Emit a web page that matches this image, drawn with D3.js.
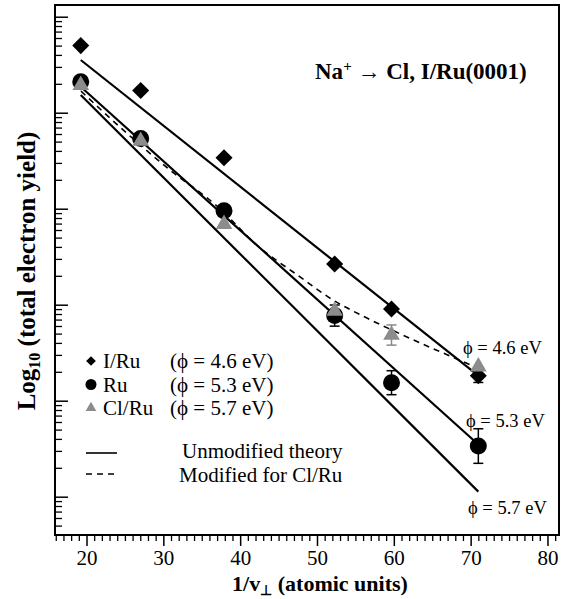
<!DOCTYPE html>
<html>
<head>
<meta charset="utf-8">
<script src="https://cdn.jsdelivr.net/npm/d3@7"></script>
<style>
  body { margin: 0; background: #fff; }
  text { font-family: "Liberation Serif", "Times New Roman", serif; fill: #000; }
</style>
</head>
<body>
<div id="chart"></div>
<script>
// 1/v_perp values (atomic units), same for all three surfaces
var xVals = [19.25, 27.05, 37.9, 52.3, 59.7, 71.0];

// total electron yield (arbitrary units, log axis)
var iruYield = [5.0e-1, 1.7e-1, 3.4e-2, 2.65e-3, 9.0e-4, 1.82e-4];
var ruYield  = [2.1e-1, 5.4e-2, 9.5e-3, 7.7e-4, 1.54e-4, 3.37e-5];
var clYield  = [1.94e-1, 5.07e-2, 6.9e-3, 8.6e-4, 4.83e-4, 2.26e-4];

// error bar half-widths, in decades
var iruErr = [0, 0, 0, 0, 0, 0.07];
var ruErr  = [0, 0, 0, 0.11, 0.125, 0.18];
var clErr  = [0, 0, 0, 0, 0.105, 0];

// unmodified theory lines: [x0, y0, x1, y1]
var theory = [
  { phi: "4.6", pts: [19.25, 0.354, 71.0, 1.82e-4] },
  { phi: "5.3", pts: [19.25, 0.1866, 71.0, 3.5e-5] },
  { phi: "5.7", pts: [19.25, 0.153, 71.0, 1.13e-5] }
];

// modified theory for Cl/Ru (dashed)
var modX = [19.28, 23.05, 30.86, 36.98, 42.32, 47.79, 52.08, 56.5, 59.75, 70.95];
var modY = [0.168, 0.088, 0.0253, 0.01067, 0.00408, 0.00195, 0.00112, 7.26e-4, 5.45e-4, 2.19e-4];

var xTicks = [20, 30, 40, 50, 60, 70, 80];

var svgWidth = 567;
var svgHeight = 599;
var margin = { top: 5, right: 8, bottom: 64, left: 55 };
var width = svgWidth - margin.left - margin.right;
var height = svgHeight - margin.top - margin.bottom;

var svg = d3.select("#chart")
  .append("svg")
  .attr("width", svgWidth)
  .attr("height", svgHeight);

var chartGroup = svg.append("g")
  .attr("transform", `translate(${margin.left}, ${margin.top})`);

var xScale = d3.scaleLinear()
  .domain([15.9, 81.5])
  .range([0, width]);

var yScale = d3.scaleLog()
  .domain([Math.pow(10, -5.399), Math.pow(10, 0.122)])
  .range([height, 0]);

// ---- x axis: ticks pointing out ----
var minorX = d3.range(16, 82).filter(d => xTicks.indexOf(d) < 0);
chartGroup.append("g")
  .attr("transform", `translate(0, ${height})`)
  .call(d3.axisBottom(xScale).tickValues(minorX).tickSize(6).tickFormat(""))
  .call(g => g.select(".domain").remove())
  .selectAll("line").attr("stroke-width", 1.3);

var xAxis = chartGroup.append("g")
  .attr("transform", `translate(0, ${height})`)
  .call(d3.axisBottom(xScale).tickValues(xTicks).tickSize(11).tickPadding(4).tickSizeOuter(0));
xAxis.select(".domain").remove();
xAxis.selectAll("line").attr("stroke-width", 1.5);
xAxis.selectAll("text")
  .attr("font-family", "Liberation Serif")
  .attr("font-size", 21);

// ---- y axis: log ticks pointing in, no labels ----
var majorY = [];
var minorY = [];
for (var k = -6; k <= 0; k++) {
  for (var m = 1; m < 10; m++) {
    var v = m * Math.pow(10, k);
    if (v < yScale.domain()[0] * 1.01 || v > yScale.domain()[1]) continue;
    if (m === 1) majorY.push(v); else minorY.push(v);
  }
}
chartGroup.append("g")
  .call(d3.axisRight(yScale).tickValues(minorY).tickSize(7).tickFormat(""))
  .call(g => g.select(".domain").remove())
  .selectAll("line").attr("stroke-width", 1.3);
chartGroup.append("g")
  .call(d3.axisRight(yScale).tickValues(majorY).tickSize(13).tickFormat(""))
  .call(g => g.select(".domain").remove())
  .selectAll("line").attr("stroke-width", 1.5);

// frame
chartGroup.append("rect")
  .attr("width", width)
  .attr("height", height)
  .attr("fill", "none")
  .attr("stroke", "#000")
  .attr("stroke-width", 2);

// ---- theory lines ----
chartGroup.selectAll(".theory")
  .data(theory)
  .enter()
  .append("line")
  .attr("class", "theory")
  .attr("x1", d => xScale(d.pts[0]))
  .attr("y1", d => yScale(d.pts[1]))
  .attr("x2", d => xScale(d.pts[2]))
  .attr("y2", d => yScale(d.pts[3]))
  .attr("stroke", "#000")
  .attr("stroke-width", 2.2);

var modData = modX.map((x, i) => [x, modY[i]]);
chartGroup.append("path")
  .datum(modData)
  .attr("fill", "none")
  .attr("stroke", "#000")
  .attr("stroke-width", 1.6)
  .attr("stroke-dasharray", "6,5")
  .attr("d", d3.line()
    .x(d => xScale(d[0]))
    .y(d => yScale(d[1]))
    .curve(d3.curveMonotoneX));

// ---- error bars ----
function errorBars(yields, errs, color) {
  var data = xVals.map((x, i) => ({ x: x, y: yields[i], e: errs[i] })).filter(d => d.e > 0);
  var g = chartGroup.append("g").attr("stroke", color).attr("stroke-width", 1.5);
  data.forEach(function(d) {
    var cx = xScale(d.x);
    var yTop = yScale(d.y * Math.pow(10, d.e));
    var yBot = yScale(d.y / Math.pow(10, d.e));
    g.append("line").attr("x1", cx).attr("x2", cx).attr("y1", yTop).attr("y2", yBot);
    g.append("line").attr("x1", cx - 5).attr("x2", cx + 5).attr("y1", yTop).attr("y2", yTop);
    g.append("line").attr("x1", cx - 5).attr("x2", cx + 5).attr("y1", yBot).attr("y2", yBot);
  });
}
errorBars(iruYield, iruErr, "#000");
errorBars(ruYield, ruErr, "#000");
errorBars(clYield, clErr, "#888");

// ---- markers ----
var diamond = d3.symbol().type(d3.symbolDiamond2).size(185);
var triangle = d3.symbol().type(d3.symbolTriangle).size(120);

chartGroup.selectAll(".iru")
  .data(xVals)
  .enter()
  .append("path")
  .attr("class", "iru")
  .attr("d", diamond)
  .attr("transform", (d, i) => `translate(${xScale(d)}, ${yScale(iruYield[i])})`)
  .attr("fill", "#000");

chartGroup.selectAll(".ru")
  .data(xVals)
  .enter()
  .append("circle")
  .attr("class", "ru")
  .attr("cx", d => xScale(d))
  .attr("cy", (d, i) => yScale(ruYield[i]))
  .attr("r", 8.5)
  .attr("fill", "#000");

chartGroup.selectAll(".clru")
  .data(xVals)
  .enter()
  .append("path")
  .attr("class", "clru")
  .attr("d", triangle)
  .attr("transform", (d, i) => `translate(${xScale(d)}, ${yScale(clYield[i])})`)
  .attr("fill", "#8c8c8c");

// ---- phi annotations ----
var annot = chartGroup.append("g").attr("font-size", 18.5);
annot.append("text").attr("x", 408).attr("y", 349).text("\u03d5 = 4.6 eV");
annot.append("text").attr("x", 411).attr("y", 422).text("\u03d5 = 5.3 eV");
annot.append("text").attr("x", 413).attr("y", 509).text("\u03d5 = 5.7 eV");

// ---- title inside plot ----
var title = chartGroup.append("text")
  .attr("x", 260)
  .attr("y", 74)
  .attr("font-size", 23)
  .attr("font-weight", "bold");
title.append("tspan").text("Na");
title.append("tspan").attr("dy", -8).attr("font-size", 15).text("+");
title.append("tspan").attr("dy", 8).text("  \u2192  Cl, I/Ru(0001)");

// ---- legend ----
var legend = chartGroup.append("g").attr("font-size", 21);
var legRows = [
  { name: "I/Ru", phi: "(\u03d5 = 4.6 eV)" },
  { name: "Ru", phi: "(\u03d5 = 5.3 eV)" },
  { name: "Cl/Ru", phi: "(\u03d5 = 5.7 eV)" }
];
legRows.forEach(function(r, i) {
  var y = 356 + i * 23.5;
  if (i === 0) {
    legend.append("path").attr("d", d3.symbol().type(d3.symbolDiamond2).size(60))
      .attr("transform", `translate(36, ${y})`).attr("fill", "#000");
  } else if (i === 1) {
    legend.append("circle").attr("cx", 36).attr("cy", y).attr("r", 5.5).attr("fill", "#000");
  } else {
    legend.append("path").attr("d", d3.symbol().type(d3.symbolTriangle).size(50))
      .attr("transform", `translate(36, ${y})`).attr("fill", "#8c8c8c");
  }
  legend.append("text").attr("x", 48).attr("y", y + 7).text(r.name);
  legend.append("text").attr("x", 115).attr("y", y + 7).text(r.phi);
});
legend.append("line").attr("x1", 31).attr("x2", 62).attr("y1", 448).attr("y2", 448)
  .attr("stroke", "#000").attr("stroke-width", 1.6);
legend.append("line").attr("x1", 31).attr("x2", 62).attr("y1", 469).attr("y2", 469)
  .attr("stroke", "#000").attr("stroke-width", 1.4).attr("stroke-dasharray", "6,5");
legend.append("text").attr("x", 127).attr("y", 452.5).text("Unmodified theory");
legend.append("text").attr("x", 124).attr("y", 476.5).text("Modified for Cl/Ru");

// ---- axis titles ----
var xTitle = svg.append("text")
  .attr("x", 320)
  .attr("y", 591)
  .attr("text-anchor", "middle")
  .attr("font-size", 22)
  .attr("font-weight", "bold");
xTitle.append("tspan").text("1/v");
xTitle.append("tspan").attr("dy", 4).attr("font-size", 14).text("\u22a5");
xTitle.append("tspan").attr("dy", -4).text(" (atomic units)");

var yTitle = svg.append("text")
  .attr("transform", "translate(35, 271) rotate(-90)")
  .attr("text-anchor", "middle")
  .attr("font-size", 25)
  .attr("font-weight", "bold");
yTitle.append("tspan").text("Log");
yTitle.append("tspan").attr("dy", 5).attr("font-size", 16).text("10");
yTitle.append("tspan").attr("dy", -5).text(" (total electron yield)");
</script>
</body>
</html>
